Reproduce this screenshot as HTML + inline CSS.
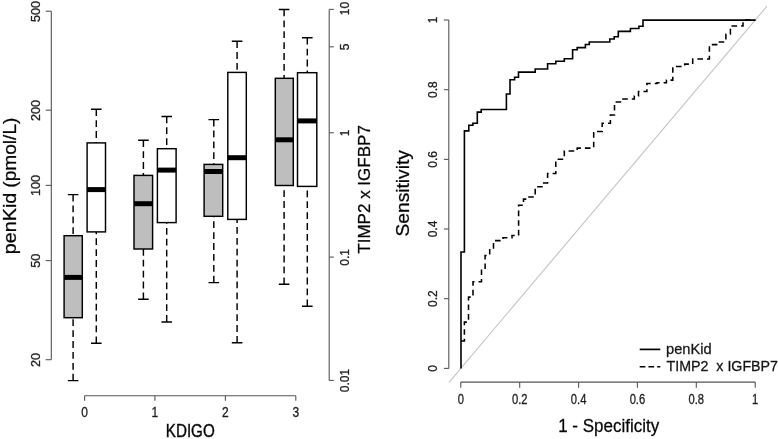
<!DOCTYPE html>
<html lang="en"><head><meta charset="utf-8"><title>penKid vs TIMP2 x IGFBP7</title>
<style>
html,body{margin:0;padding:0;background:#fff;}
body{width:778px;height:439px;overflow:hidden;}
svg{display:block;font-family:"Liberation Sans", sans-serif;filter:blur(0.35px);}
text{stroke:#222;stroke-width:0.3px;}
</style></head><body>
<svg width="778" height="439" viewBox="0 0 778 439">
<rect width="778" height="439" fill="#fff"/>
<path d="M51.3 11.2V359.7" stroke="#555" stroke-width="1.1" fill="none"/>
<path d="M45.699999999999996 11.2H51.3" stroke="#555" stroke-width="1.1" fill="none"/>
<text transform="translate(39.6 11.399999999999999) rotate(-90)" text-anchor="middle" font-size="12.6" fill="#1c1c1c">500</text>
<path d="M45.699999999999996 110.2H51.3" stroke="#555" stroke-width="1.1" fill="none"/>
<text transform="translate(39.6 110.4) rotate(-90)" text-anchor="middle" font-size="12.6" fill="#1c1c1c">200</text>
<path d="M45.699999999999996 185.4H51.3" stroke="#555" stroke-width="1.1" fill="none"/>
<text transform="translate(39.6 185.6) rotate(-90)" text-anchor="middle" font-size="12.6" fill="#1c1c1c">100</text>
<path d="M45.699999999999996 260.6H51.3" stroke="#555" stroke-width="1.1" fill="none"/>
<text transform="translate(39.6 260.8) rotate(-90)" text-anchor="middle" font-size="12.6" fill="#1c1c1c">50</text>
<path d="M45.699999999999996 359.7H51.3" stroke="#555" stroke-width="1.1" fill="none"/>
<text transform="translate(39.6 359.9) rotate(-90)" text-anchor="middle" font-size="12.6" fill="#1c1c1c">20</text>
<text transform="translate(16.0 254.2) rotate(-90)" font-size="19" textLength="61.5" lengthAdjust="spacingAndGlyphs" fill="#000">penKid</text>
<text transform="translate(16.0 187.7) rotate(-90)" font-size="19" textLength="70.1" lengthAdjust="spacingAndGlyphs" fill="#000">(pmol/L)</text>
<path d="M329.2 9.4V380.4" stroke="#555" stroke-width="1.1" fill="none"/>
<path d="M329.2 9.4h4.6" stroke="#555" stroke-width="1.1" fill="none"/>
<text transform="translate(348.9 8.5) rotate(-90)" text-anchor="middle" font-size="12" fill="#1c1c1c">10</text>
<path d="M329.2 46.8h4.6" stroke="#555" stroke-width="1.1" fill="none"/>
<text transform="translate(348.9 47.0) rotate(-90)" text-anchor="middle" font-size="12" fill="#1c1c1c">5</text>
<path d="M329.2 132.8h4.6" stroke="#555" stroke-width="1.1" fill="none"/>
<text transform="translate(348.9 133.0) rotate(-90)" text-anchor="middle" font-size="12" fill="#1c1c1c">1</text>
<path d="M329.2 257.1h4.6" stroke="#555" stroke-width="1.1" fill="none"/>
<text transform="translate(348.9 257.3) rotate(-90)" text-anchor="middle" font-size="12" fill="#1c1c1c">0.1</text>
<path d="M329.2 380.4h4.6" stroke="#555" stroke-width="1.1" fill="none"/>
<text transform="translate(348.9 380.59999999999997) rotate(-90)" text-anchor="middle" font-size="12" fill="#1c1c1c">0.01</text>
<text transform="translate(369.9 189.4) rotate(-90)" text-anchor="middle" font-size="17.3" textLength="128.5" lengthAdjust="spacingAndGlyphs" fill="#000">TIMP2 x IGFBP7</text>
<path d="M84.6 395.7H295.8" stroke="#555" stroke-width="1.1" fill="none"/>
<path d="M84.6 395.7v5" stroke="#555" stroke-width="1.1" fill="none"/>
<text transform="translate(84.6 417.3) scale(0.87 1)" text-anchor="middle" font-size="13.8" fill="#1c1c1c">0</text>
<path d="M154.9 395.7v5" stroke="#555" stroke-width="1.1" fill="none"/>
<text transform="translate(154.9 417.3) scale(0.87 1)" text-anchor="middle" font-size="13.8" fill="#1c1c1c">1</text>
<path d="M225.4 395.7v5" stroke="#555" stroke-width="1.1" fill="none"/>
<text transform="translate(225.4 417.3) scale(0.87 1)" text-anchor="middle" font-size="13.8" fill="#1c1c1c">2</text>
<path d="M295.8 395.7v5" stroke="#555" stroke-width="1.1" fill="none"/>
<text transform="translate(295.8 417.3) scale(0.87 1)" text-anchor="middle" font-size="13.8" fill="#1c1c1c">3</text>
<text x="165.8" y="437.3" font-size="18.6" textLength="48.9" style="stroke-width:0.45px" lengthAdjust="spacingAndGlyphs" fill="#000">KDIGO</text>
<path d="M73.1 194.6V235.7M73.1 380.6V317.7" stroke="#000" stroke-width="1.45" stroke-dasharray="6.8 4.1" fill="none"/>
<path d="M67.8 194.6h10.6M67.8 380.6h10.6" stroke="#000" stroke-width="1.45" fill="none"/>
<rect x="64.1" y="235.7" width="18.20" height="82.00" fill="#bebebe" stroke="#000" stroke-width="1.45"/>
<path d="M64.1 277.4H82.3" stroke="#000" stroke-width="5" fill="none"/>
<path d="M96.3 109.3V142.9M96.3 343.2V231.9" stroke="#000" stroke-width="1.45" stroke-dasharray="6.8 4.1" fill="none"/>
<path d="M91.0 109.3h10.6M91.0 343.2h10.6" stroke="#000" stroke-width="1.45" fill="none"/>
<rect x="87.1" y="142.9" width="18.40" height="89.00" fill="#fff" stroke="#000" stroke-width="1.45"/>
<path d="M87.1 189.6H105.5" stroke="#000" stroke-width="5" fill="none"/>
<path d="M143.4 140.3V175.4M143.4 299.3V249.0" stroke="#000" stroke-width="1.45" stroke-dasharray="6.8 4.1" fill="none"/>
<path d="M138.1 140.3h10.6M138.1 299.3h10.6" stroke="#000" stroke-width="1.45" fill="none"/>
<rect x="134.0" y="175.4" width="18.60" height="73.60" fill="#bebebe" stroke="#000" stroke-width="1.45"/>
<path d="M134.0 203.7H152.6" stroke="#000" stroke-width="5" fill="none"/>
<path d="M166.7 116.4V148.7M166.7 321.9V222.6" stroke="#000" stroke-width="1.45" stroke-dasharray="6.8 4.1" fill="none"/>
<path d="M161.39999999999998 116.4h10.6M161.39999999999998 321.9h10.6" stroke="#000" stroke-width="1.45" fill="none"/>
<rect x="157.4" y="148.7" width="18.70" height="73.90" fill="#fff" stroke="#000" stroke-width="1.45"/>
<path d="M157.4 170.1H176.1" stroke="#000" stroke-width="5" fill="none"/>
<path d="M213.8 119.6V164.4M213.8 282.6V216.3" stroke="#000" stroke-width="1.45" stroke-dasharray="6.8 4.1" fill="none"/>
<path d="M208.5 119.6h10.6M208.5 282.6h10.6" stroke="#000" stroke-width="1.45" fill="none"/>
<rect x="204.1" y="164.4" width="18.60" height="51.90" fill="#bebebe" stroke="#000" stroke-width="1.45"/>
<path d="M204.1 171.5H222.7" stroke="#000" stroke-width="5" fill="none"/>
<path d="M237.1 41.2V72.4M237.1 342.8V219.4" stroke="#000" stroke-width="1.45" stroke-dasharray="6.8 4.1" fill="none"/>
<path d="M231.79999999999998 41.2h10.6M231.79999999999998 342.8h10.6" stroke="#000" stroke-width="1.45" fill="none"/>
<rect x="227.8" y="72.4" width="18.50" height="147.00" fill="#fff" stroke="#000" stroke-width="1.45"/>
<path d="M227.8 157.7H246.3" stroke="#000" stroke-width="5" fill="none"/>
<path d="M284.1 9.5V78.3M284.1 284.2V185.5" stroke="#000" stroke-width="1.45" stroke-dasharray="6.8 4.1" fill="none"/>
<path d="M278.8 9.5h10.6M278.8 284.2h10.6" stroke="#000" stroke-width="1.45" fill="none"/>
<rect x="275.3" y="78.3" width="18.00" height="107.20" fill="#bebebe" stroke="#000" stroke-width="1.45"/>
<path d="M275.3 139.8H293.3" stroke="#000" stroke-width="5" fill="none"/>
<path d="M307.3 37.8V72.7M307.3 306.2V186.4" stroke="#000" stroke-width="1.45" stroke-dasharray="6.8 4.1" fill="none"/>
<path d="M302.0 37.8h10.6M302.0 306.2h10.6" stroke="#000" stroke-width="1.45" fill="none"/>
<rect x="297.5" y="72.7" width="19.30" height="113.70" fill="#fff" stroke="#000" stroke-width="1.45"/>
<path d="M297.5 120.9H316.8" stroke="#000" stroke-width="5" fill="none"/>
<path d="M449.0 382.3L767.0 6.1" stroke="#c4c4c4" stroke-width="1.1" fill="none"/>
<path d="M448.8 20.0V368.4" stroke="#555" stroke-width="1.1" fill="none"/>
<path d="M443.90000000000003 368.4H448.8" stroke="#555" stroke-width="1.1" fill="none"/>
<text transform="translate(436.6 368.4) rotate(-90)" text-anchor="middle" font-size="12" fill="#1c1c1c">0</text>
<path d="M443.90000000000003 298.7H448.8" stroke="#555" stroke-width="1.1" fill="none"/>
<text transform="translate(436.6 298.7) rotate(-90)" text-anchor="middle" font-size="12" fill="#1c1c1c">0.2</text>
<path d="M443.90000000000003 229.0H448.8" stroke="#555" stroke-width="1.1" fill="none"/>
<text transform="translate(436.6 229.0) rotate(-90)" text-anchor="middle" font-size="12" fill="#1c1c1c">0.4</text>
<path d="M443.90000000000003 159.4H448.8" stroke="#555" stroke-width="1.1" fill="none"/>
<text transform="translate(436.6 159.4) rotate(-90)" text-anchor="middle" font-size="12" fill="#1c1c1c">0.6</text>
<path d="M443.90000000000003 89.7H448.8" stroke="#555" stroke-width="1.1" fill="none"/>
<text transform="translate(436.6 89.7) rotate(-90)" text-anchor="middle" font-size="12" fill="#1c1c1c">0.8</text>
<path d="M443.90000000000003 20.0H448.8" stroke="#555" stroke-width="1.1" fill="none"/>
<text transform="translate(436.6 20.0) rotate(-90)" text-anchor="middle" font-size="12" fill="#1c1c1c">1</text>
<text transform="translate(408.9 193.3) rotate(-90)" text-anchor="middle" font-size="18.6" textLength="86.4" lengthAdjust="spacingAndGlyphs" fill="#000">Sensitivity</text>
<path d="M460.8 382.1H755.2" stroke="#555" stroke-width="1.1" fill="none"/>
<path d="M460.8 382.1v5.6" stroke="#555" stroke-width="1.1" fill="none"/>
<text transform="translate(460.8 403.7) scale(0.8 1)" text-anchor="middle" font-size="14" fill="#1c1c1c">0</text>
<path d="M519.7 382.1v5.6" stroke="#555" stroke-width="1.1" fill="none"/>
<text transform="translate(519.7 403.7) scale(0.8 1)" text-anchor="middle" font-size="14" fill="#1c1c1c">0.2</text>
<path d="M578.6 382.1v5.6" stroke="#555" stroke-width="1.1" fill="none"/>
<text transform="translate(578.6 403.7) scale(0.8 1)" text-anchor="middle" font-size="14" fill="#1c1c1c">0.4</text>
<path d="M637.4 382.1v5.6" stroke="#555" stroke-width="1.1" fill="none"/>
<text transform="translate(637.4 403.7) scale(0.8 1)" text-anchor="middle" font-size="14" fill="#1c1c1c">0.6</text>
<path d="M696.3 382.1v5.6" stroke="#555" stroke-width="1.1" fill="none"/>
<text transform="translate(696.3 403.7) scale(0.8 1)" text-anchor="middle" font-size="14" fill="#1c1c1c">0.8</text>
<path d="M755.2 382.1v5.6" stroke="#555" stroke-width="1.1" fill="none"/>
<text transform="translate(755.2 403.7) scale(0.8 1)" text-anchor="middle" font-size="14" fill="#1c1c1c">1</text>
<text x="558.2" y="431.7" font-size="18" textLength="101" lengthAdjust="spacingAndGlyphs" fill="#000">1 - Specificity</text>
<path d="M461 341L464.4 341L464.4 322.1L468.5 322.1L468.5 297.1L473 297.1L473 281.7L481.5 281.7L481.5 270.2L485.1 270.2L485.1 255.4L489.7 255.4L489.7 249.7L493.5 249.7L493.5 240.6L503 240.6L503 237.8L512 237.8L512 235.5L518.6 235.5L518.6 205.2L523.5 205.2L523.5 199.1L527 199.1L527 197L535.2 197L535.2 186.7L543.7 186.7L543.7 182.9L547.6 182.9L547.6 173.4L555.8 173.4L555.8 159.2L564.3 159.2L564.3 151L577.2 151L577.2 148.1L593.7 148.1L593.7 131.4L602.2 131.4L602.2 123.2L610.4 123.2L610.4 114.9L614.5 114.9L614.5 102L622 102L622 99L634.3 99L634.3 96L638.5 96L638.5 91.5L646.9 91.5L646.9 83.5L657 83.5L657 82.8L666.4 82.8L666.4 80.1L672.8 80.1L672.8 66.4L684.7 66.4L684.7 64.1L692.7 64.1L692.7 59L709.4 59L709.4 44.6L717.8 44.6L717.8 41.9L725.9 41.9L725.9 34.3L730.4 34.3L730.4 25.9L743 25.9L743 20.1L755.4 20.1" stroke="#000" stroke-width="1.55" stroke-dasharray="5.6 4" fill="none" stroke-linejoin="miter"/>
<path d="M461 368.4L461 252L464.4 252L464.4 130.9L468.8 130.9L468.8 125.2L472.9 125.2L472.9 123.2L477.3 123.2L477.3 112.1L481.2 112.1L481.2 109.5L506.4 109.5L506.4 94L510 94L510 79.8L514.6 79.8L514.6 77.2L518.5 77.2L518.5 72.1L535.2 72.1L535.2 69L547.6 69L547.6 63.8L555.8 63.8L555.8 61.3L564.3 61.3L564.3 58.7L572.6 58.7L572.6 49.7L577.2 49.7L577.2 47.6L585.4 47.6L585.4 44.5L589.3 44.5L589.3 42L609.8 42L609.8 39L614.2 39L614.2 36.7L618.3 36.7L618.3 31.4L630.4 31.4L630.4 28.5L638.9 28.5L638.9 26.3L643 26.3L643 20.1L755.4 20.1" stroke="#000" stroke-width="1.6" fill="none" stroke-linejoin="miter"/>
<path d="M639.7 349.4H660.3" stroke="#000" stroke-width="1.7" fill="none"/>
<path d="M639.7 366.7H660.3" stroke="#000" stroke-width="1.55" stroke-dasharray="5.7 3.05" fill="none"/>
<text x="666.0" y="354.4" font-size="15" textLength="45.6" lengthAdjust="spacingAndGlyphs" fill="#111">penKid</text>
<text x="666.5" y="371.3" font-size="15" textLength="111.5" lengthAdjust="spacingAndGlyphs" fill="#111" style="white-space:pre">TIMP2  x IGFBP7</text>
</svg>
</body></html>
